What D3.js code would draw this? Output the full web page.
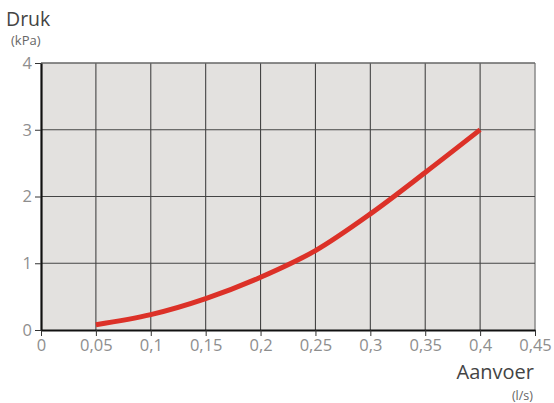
<!DOCTYPE html>
<html>
<head>
<meta charset="utf-8">
<script src="https://cdn.jsdelivr.net/npm/d3@7"></script>
<style>
  body { margin: 0; background: #fff; }
  svg { display: block; font-family: "Open Sans", Lato, sans-serif; }
</style>
</head>
<body>
<svg id="chart" width="554" height="403"></svg>
<script>
// flow (l/s) vs pressure (kPa)
const flow = [0.05, 0.1, 0.15, 0.2, 0.25, 0.3, 0.35, 0.4];
const pressure = [0.08, 0.23, 0.47, 0.79, 1.19, 1.74, 2.36, 3.0];
const xTicks = [0, 0.05, 0.1, 0.15, 0.2, 0.25, 0.3, 0.35, 0.4, 0.45];
const yTicks = [0, 1, 2, 3, 4];

const svg = d3.select("#chart");
const margin = { top: 63, right: 19, bottom: 73, left: 41 };
const width = 554, height = 403;

const x = d3.scaleLinear().domain([0, 0.45]).range([margin.left, width - margin.right]);
const y = d3.scaleLinear().domain([0, 4]).range([height - margin.bottom, margin.top]);

const fmt = d => String(d).replace(".", ",");

// plot background
svg.append("rect")
  .attr("x", x(0)).attr("y", y(4))
  .attr("width", x(0.45) - x(0)).attr("height", y(0) - y(4))
  .attr("fill", "#e3e1df");

// grid lines
svg.append("g")
  .selectAll("line.vg")
  .data(xTicks.slice(1))
  .join("line")
  .attr("x1", d => x(d)).attr("x2", d => x(d))
  .attr("y1", y(4)).attr("y2", y(0))
  .attr("stroke", d => d === 0.45 ? "#8a8a8a" : "#444")
  .attr("stroke-width", d => d === 0.45 ? 1.5 : 1.1);

svg.append("g")
  .selectAll("line.hg")
  .data(yTicks.slice(1))
  .join("line")
  .attr("x1", x(0)).attr("x2", x(0.45))
  .attr("y1", d => y(d)).attr("y2", d => y(d))
  .attr("stroke", d => d === 4 ? "#666" : "#444")
  .attr("stroke-width", d => d === 4 ? 1.5 : 1.1);

// axes
const xAxis = svg.append("g")
  .attr("transform", `translate(0,${y(0)})`)
  .call(d3.axisBottom(x).tickValues(xTicks).tickFormat(fmt).tickSize(6).tickPadding(3).tickSizeOuter(0));
const yAxis = svg.append("g")
  .attr("transform", `translate(${x(0)},0)`)
  .call(d3.axisLeft(y).tickValues(yTicks).tickFormat(d3.format("d")).tickSize(6).tickPadding(3).tickSizeOuter(0));

[xAxis, yAxis].forEach(g => {
  g.select(".domain").attr("stroke", "#111").attr("stroke-width", 2.2);
  g.selectAll(".tick line").attr("stroke", "#333").attr("stroke-width", 1);
  g.selectAll(".tick text").attr("fill", "#8e8e8e").style("font-size", "16.5px").style("font-family", "Open Sans, sans-serif");
});

// curve
const line = d3.line()
  .x((d, i) => x(flow[i]))
  .y(d => y(d))
  .curve(d3.curveMonotoneX);

svg.append("path")
  .datum(pressure)
  .attr("d", line)
  .attr("fill", "none")
  .attr("stroke", "#dc3128")
  .attr("stroke-width", 5)
  .attr("stroke-linecap", "butt");

// axis titles
svg.append("text").attr("x", 6).attr("y", 26)
  .attr("fill", "#444").style("font-size", "19.5px").text("Druk");
svg.append("text").attr("x", 11).attr("y", 45)
  .attr("fill", "#666").style("font-size", "13px").text("(kPa)");
svg.append("text").attr("x", 534).attr("y", 379).attr("text-anchor", "end")
  .attr("fill", "#444").style("font-size", "20px").text("Aanvoer");
svg.append("text").attr("x", 533).attr("y", 400).attr("text-anchor", "end")
  .attr("fill", "#666").style("font-size", "12.5px").text("(l/s)");
</script>
</body>
</html>
